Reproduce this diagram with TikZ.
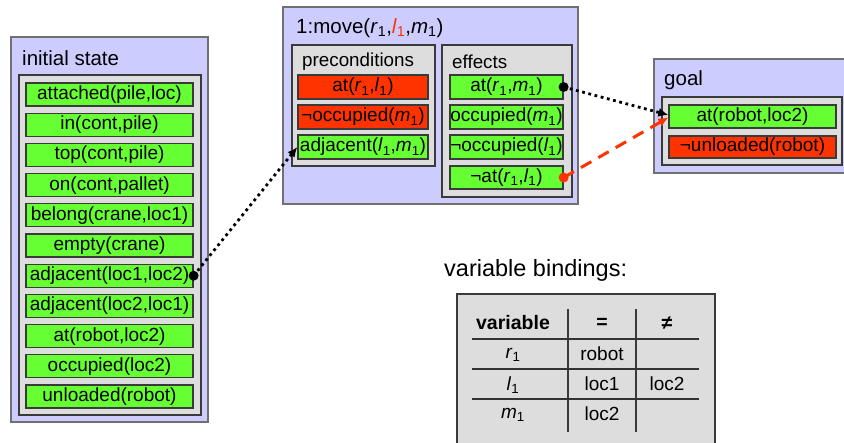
\documentclass[tikz,border=0pt]{standalone}
\usepackage{fontspec}
\setmainfont{Liberation Sans}
\usetikzlibrary{arrows.meta}

\definecolor{lav}{HTML}{CCCCFF}
\definecolor{pale}{HTML}{DDDDDD}
\definecolor{grn}{HTML}{66FF33}
\definecolor{rd}{HTML}{FF3300}
\definecolor{frame}{HTML}{707070}
\definecolor{dark}{HTML}{3A3A3A}

% italic variable with an upright numeric subscript
\newcommand\vsub[2]{\textit{#1}\textsubscript{#2}}
% box given by its corner coordinates: name, x1, y1, x2, y2, style, text
\newcommand\cellbox[7]{%
  \node[#6, minimum width=#4pt-#2pt, minimum height=#5pt-#3pt]
    (#1) at ({(#2+#4)/2},{(#3+#5)/2}) {#7};}

\tikzset{
  panel/.style={draw=frame, fill=lav, line width=1.2pt, inner sep=0pt},
  tray/.style={draw=dark, fill=pale, line width=1.2pt, inner sep=0pt},
  fact/.style={draw=dark, fill=grn, line width=1.2pt, inner sep=0pt,
    font={\fontsize{19}{20}\selectfont}},
  negfact/.style={fact, fill=rd},
  heading/.style={anchor=west, inner sep=0pt, font={\fontsize{20.5}{22}\selectfont}},
  subheading/.style={anchor=west, inner sep=0pt, font={\fontsize{18.8}{20}\selectfont}},
  tabtext/.style={inner sep=0pt, font={\fontsize{19}{21}\selectfont}},
  link/.style={line width=2.8pt, dash pattern=on 2.8pt off 3.6pt,
    -{Latex[length=10pt,width=9pt]}},
  dellink/.style={rd, line width=3pt, dash pattern=on 12pt off 8pt,
    -{Latex[length=10pt,width=9pt]}},
}

\begin{document}
\begin{tikzpicture}[x=1pt,y=-1pt]
\useasboundingbox (0,0) rectangle (844,443);

% ---------- initial state ----------
\cellbox{init}{11}{37}{208}{422}{panel}{}
\node[heading] (initT) at (22,58) {initial state};
\cellbox{initTray}{19}{75}{201}{415}{tray}{}
\foreach \t [count=\i from 0] in {{attached(pile,loc)},{in(cont,pile)},{top(cont,pile)},
  {on(cont,pallet)},{belong(crane,loc1)},{empty(crane)},{adjacent(loc1,loc2)},
  {adjacent(loc2,loc1)},{at(robot,loc2)},{occupied(loc2)},{unloaded(robot)}}{
  \pgfmathsetmacro\ytop{83+30.2*\i}
  \pgfmathsetmacro\ybot{\ytop+23}
  \cellbox{s\i}{26}{\ytop}{193}{\ybot}{fact}{\t}
}

% ---------- action ----------
\cellbox{act}{283}{7}{578}{204}{panel}{}
\node[heading] (actT) at (296,28)
  {1:move(\vsub{r}{1},{\color{rd}\vsub{l}{1}},\vsub{m}{1})};
\cellbox{pre}{292}{45}{435}{166}{tray}{}
\node[subheading] (preT) at (302,62) {preconditions};
\cellbox{p1}{298}{75}{428}{99}{negfact}{at(\vsub{r}{1},\vsub{l}{1})}
\cellbox{p2}{298}{105}{428}{129}{negfact}{¬occupied(\vsub{m}{1})}
\cellbox{p3}{298}{135}{428}{159}{fact}{adjacent(\vsub{l}{1},\vsub{m}{1})}

\cellbox{eff}{442}{45}{572}{197}{tray}{}
\node[subheading] (effT) at (452,62) {effects};
\cellbox{e1}{450}{75}{563}{99}{fact}{at(\vsub{r}{1},\vsub{m}{1})}
\cellbox{e2}{450}{105}{563}{129}{fact}{occupied(\vsub{m}{1})}
\cellbox{e3}{450}{135}{563}{159}{fact}{¬occupied(\vsub{l}{1})}
\cellbox{e4}{450}{166}{563}{189}{fact}{¬at(\vsub{r}{1},\vsub{l}{1})}

% ---------- goal ----------
\cellbox{goal}{654}{59}{848}{173}{panel}{}
\node[heading] (goalT) at (664,80) {goal};
\cellbox{goalTray}{662}{97}{842}{165}{tray}{}
\cellbox{g1}{669}{105}{836}{128}{fact}{at(robot,loc2)}
\cellbox{g2}{669}{136}{836}{158}{negfact}{¬unloaded(robot)}

% ---------- variable bindings ----------
\node[anchor=west, inner sep=0pt, font={\fontsize{23.5}{25}\selectfont}]
  (vbT) at (444,270) {variable bindings:};
\cellbox{vb}{457}{294}{715}{450}{tray}{}
\draw[dark, line width=1.5pt] (568,309) -- (568,432) (636,309) -- (636,432);
\draw[black!80, line width=1.5pt] (472,339) -- (699,339) (472,369) -- (699,369)
  (472,399) -- (699,399);
\node[tabtext, font={\fontsize{19.5}{21}\selectfont\bfseries}] (h1) at (513,323) {variable};
\node[tabtext, font={\fontsize{19.5}{21}\selectfont\bfseries}] (h2) at (602,323) {=};
\node[tabtext, font={\fontsize{19.5}{21}\selectfont\bfseries}] (h3) at (667,323) {≠};
\node[tabtext] (r1a) at (513,355) {\vsub{r}{1}};
\node[tabtext] (r1b) at (602,354) {robot};
\node[tabtext] (l1a) at (513,385) {\vsub{l}{1}};
\node[tabtext] (l1b) at (602,384) {loc1};
\node[tabtext] (l1c) at (667,384) {loc2};
\node[tabtext] (m1a) at (513,415) {\vsub{m}{1}};
\node[tabtext] (m1b) at (602,414) {loc2};

% ---------- causal links ----------
\draw[link] (s6.east) -- (p3.west);
\fill (s6.east) circle (5pt);
\draw[link] (e1.east) -- ([yshift=1.5pt]g1.west);
\fill (e1.east) circle (5pt);
\draw[dellink] (e4.east) -- ([yshift=-1pt]g1.west);
\fill[rd] (e4.east) circle (5pt);
\end{tikzpicture}
\end{document}
